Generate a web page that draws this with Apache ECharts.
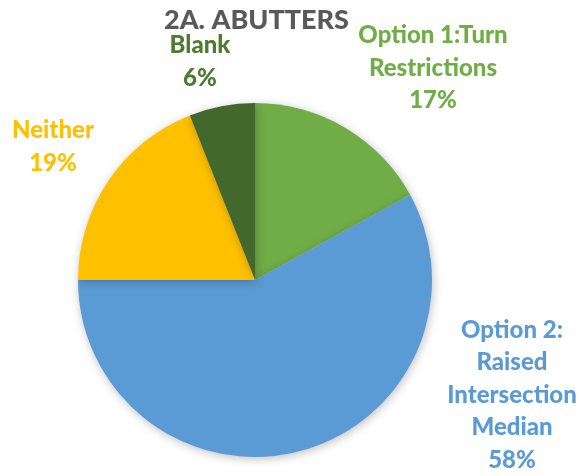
<!DOCTYPE html>
<html>
<head>
<meta charset="utf-8">
<script src="https://cdn.jsdelivr.net/npm/echarts@6/dist/echarts.min.js"></script>
<style>
  html, body { margin: 0; padding: 0; background: #fff; }
  #chart { width: 580px; height: 476px; }
</style>
</head>
<body>
<div id="chart"></div>
<script>
// 数据
var categories = ['Option 1:Turn\nRestrictions', 'Option 2:\nRaised\nIntersection\nMedian', 'Neither', 'Blank'];
var values = [17, 58, 19, 6];
var sliceColors = ['#70AD47', '#5B9BD5', '#FFC000', '#43682B'];
var labelColors = ['#70AD47', '#5B9BD5', '#FFC000', '#4E7A31'];

var myChart = echarts.init(document.getElementById('chart'));

// label anchor points (center of text block)
var labelSpots = [[433, 68], [512, 395], [53, 147], [200, 62]];

var option = {
    title: {
        text: '2A. ABUTTERS',
        left: 159,
        top: 2,
        textStyle: { fontFamily: 'Lato', fontWeight: 900, fontSize: 27, color: '#595959' }
    },
    series: [{
        type: 'pie',
        center: [255, 280],
        radius: 177,
        startAngle: 90,
        clockwise: true,
        silent: true,
        itemStyle: {
            shadowBlur: 10,
            shadowColor: 'rgba(0,0,0,0.25)',
            shadowOffsetX: 1,
            shadowOffsetY: 2
        },
        label: {
            show: true,
            position: 'outside',
            alignTo: 'none',
            overflow: 'none',
            bleedMargin: 0,
            align: 'center',
            fontFamily: 'Lato',
            fontWeight: 900,
            fontSize: 24,
            lineHeight: 32.5,
            formatter: function (p) { return p.name + '\n' + p.value + '%'; }
        },
        labelLine: { show: false },
        labelLayout: function (params) {
            var s = labelSpots[params.dataIndex];
            return { x: s[0], y: s[1], align: 'center', verticalAlign: 'middle' };
        },
        data: categories.map(function (c, i) {
            return {
                name: c,
                value: values[i],
                itemStyle: { color: sliceColors[i] },
                label: { color: labelColors[i] }
            };
        })
    }]
};

myChart.setOption(option);
</script>
</body>
</html>
